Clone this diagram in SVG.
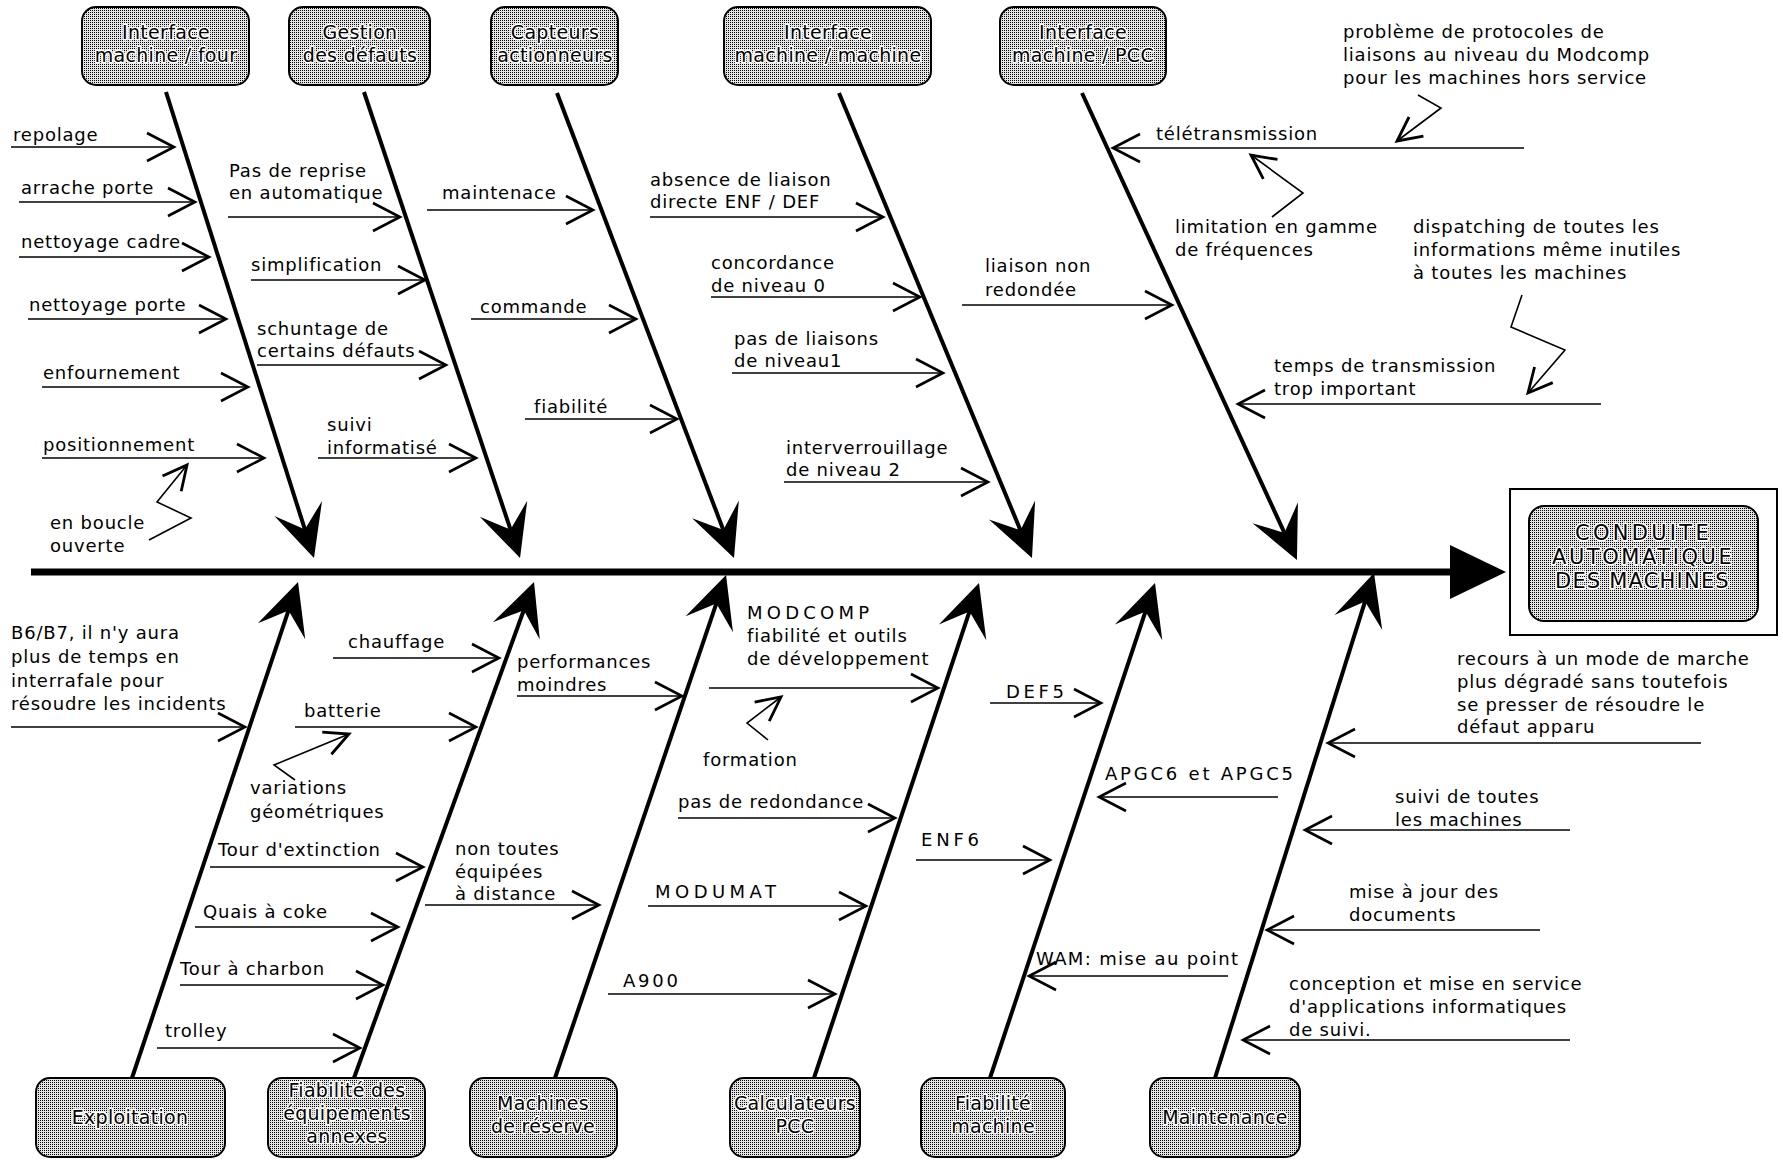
<svg xmlns="http://www.w3.org/2000/svg" width="1783" height="1160" viewBox="0 0 1783 1160">
  <style>
    .lbl { font-family: "DejaVu Sans", "Liberation Sans", sans-serif; font-size: 18px; letter-spacing: 0.8px; fill: #000; }
    .caps { letter-spacing: 0; }
    .box { fill: url(#halftone); stroke: #000; stroke-width: 2; }
    .boxtxt { font-family: "DejaVu Sans", "Liberation Sans", sans-serif; font-size: 19px; letter-spacing: 0.3px; text-anchor: middle; fill: #000; stroke: #fff; stroke-width: 3; paint-order: stroke; stroke-linejoin: round; }
    .head { font-size: 21px; }
    .spine { stroke: #000; stroke-width: 7; fill: none; }
    .bone { stroke: #000; stroke-width: 4; fill: none; marker-end: url(#dart); }
    .sub { stroke: #000; stroke-width: 1.3; fill: none; marker-end: url(#vee); }
    .zig { stroke: #000; stroke-width: 1.6; fill: none; stroke-linejoin: miter; marker-end: url(#veeZ); }
  </style>
  <defs>
    <!-- halftone screen used for the category boxes -->
    <pattern id="halftone" width="2" height="2" patternUnits="userSpaceOnUse">
      <rect width="2" height="2" fill="#e4e4e4"/>
      <rect width="1" height="1" fill="#000"/>
    </pattern>
    <!-- barbed head at the end of every main bone -->
    <marker id="dart" markerUnits="userSpaceOnUse" viewBox="-30 -28 58 56" refX="0" refY="0" markerWidth="58" markerHeight="56" orient="auto" overflow="visible">
      <path d="M25,0 L-27,-25 Q-12,-8 -5,0 Q-12,8 -27,25 Z" fill="#000"/>
    </marker>
    <!-- open chevron for the sub-cause arrows -->
    <marker id="vee" markerUnits="userSpaceOnUse" viewBox="-30 -16 34 32" refX="0" refY="0" markerWidth="34" markerHeight="32" orient="auto" overflow="visible">
      <path d="M-27,-14 L0,0 L-27,14" fill="none" stroke="#000" stroke-width="2.6"/>
    </marker>
    <!-- chevron for the zigzag annotation pointers -->
    <marker id="veeZ" markerUnits="userSpaceOnUse" viewBox="-28 -14 32 28" refX="0" refY="0" markerWidth="32" markerHeight="28" orient="auto" overflow="visible">
      <path d="M-24,-12 L0,0 L-24,12" fill="none" stroke="#000" stroke-width="2.8"/>
    </marker>
  </defs>

  <rect width="1783" height="1160" fill="#fff"/>

  <!-- connectors: spine, bones, sub-cause arrows, annotation pointers -->
  <g id="connectors">
    <path class="spine" d="M31,572 H1452"/>
    <polygon points="1450,545 1506,572 1450,599" fill="#000"/>

    <path class="bone" d="M166,92 L306.4,534.2"/>
    <path class="bone" d="M364,92 L512.1,534.3"/>
    <path class="bone" d="M557,93 L725.1,534.6"/>
    <path class="bone" d="M839,93 L1022.4,534.9"/>
    <path class="bone" d="M1082,93 L1286.5,537.3"/>
    <path class="bone" d="M132,1078 L290.1,605.7"/>
    <path class="bone" d="M354,1078 L525.5,605.5"/>
    <path class="bone" d="M555,1078 L718,598.7"/>
    <path class="bone" d="M814,1078 L971.1,606.7"/>
    <path class="bone" d="M990,1078 L1147.1,606.7"/>
    <path class="bone" d="M1215,1078 L1366.5,596.8"/>

    <path class="sub" d="M11,147 H174"/>
    <path class="sub" d="M19,202 H195"/>
    <path class="sub" d="M19,257 H209"/>
    <path class="sub" d="M28,319 H226"/>
    <path class="sub" d="M42,387 H248"/>
    <path class="sub" d="M42,458 H264"/>
    <path class="sub" d="M228,217 H400"/>
    <path class="sub" d="M251,280 H425"/>
    <path class="sub" d="M257,365 H446"/>
    <path class="sub" d="M318,458 H476"/>
    <path class="sub" d="M427,210 H593"/>
    <path class="sub" d="M471,319 H636"/>
    <path class="sub" d="M525,419 H677"/>
    <path class="sub" d="M650,217 H883"/>
    <path class="sub" d="M711,297 H920"/>
    <path class="sub" d="M732,373 H943"/>
    <path class="sub" d="M784,482 H988"/>
    <path class="sub" d="M962,305 H1172"/>
    <path class="sub" d="M1524,148 H1113"/>
    <path class="sub" d="M1601,404 H1238"/>

    <path class="sub" d="M11,727 H245"/>
    <path class="sub" d="M333,658 H499"/>
    <path class="sub" d="M295,727 H476"/>
    <path class="sub" d="M210,867 H423"/>
    <path class="sub" d="M195,927 H398"/>
    <path class="sub" d="M180,985 H383"/>
    <path class="sub" d="M157,1048 H360"/>
    <path class="sub" d="M517,696 H682"/>
    <path class="sub" d="M425,905 H599"/>
    <path class="sub" d="M709,688 H938"/>
    <path class="sub" d="M678,818 H895"/>
    <path class="sub" d="M648,906 H866"/>
    <path class="sub" d="M608,994 H835"/>
    <path class="sub" d="M990,703 H1101"/>
    <path class="sub" d="M916,860 H1050"/>
    <path class="sub" d="M1278,797 H1099"/>
    <path class="sub" d="M1228,976 H1029"/>
    <path class="sub" d="M1701,743 H1328"/>
    <path class="sub" d="M1570,830 H1305"/>
    <path class="sub" d="M1540,930 H1267"/>
    <path class="sub" d="M1570,1040 H1243"/>

    <polyline class="zig" points="1418,95 1441,108 1397,141"/>
    <polyline class="zig" points="1272,217 1303,193 1251,155"/>
    <polyline class="zig" points="1522,295 1511,327 1565,350 1528,393"/>
    <polyline class="zig" points="149,540 191,518 157,502 187,465"/>
    <polyline class="zig" points="295,780 274,765 349,734"/>
    <polyline class="zig" points="768,740 747,723 781,697"/>
  </g>

  <!-- effect -->
  <g id="effect">
    <rect x="1510" y="489" width="267" height="146" fill="#fff" stroke="#000" stroke-width="2"/>
    <rect class="box" x="1529" y="506" width="229" height="115" rx="15"/>
    <text class="boxtxt head" x="1642" y="540" textLength="134" lengthAdjust="spacing">CONDUITE</text>
    <text class="boxtxt head" x="1642" y="564" textLength="180" lengthAdjust="spacing">AUTOMATIQUE</text>
    <text class="boxtxt head" x="1642" y="588" textLength="174" lengthAdjust="spacing">DES MACHINES</text>
  </g>

  <!-- upper categories -->
  <g id="cat-interface-four">
    <rect class="box" x="82" y="7" width="167" height="78" rx="14"/>
    <text class="boxtxt" x="166" y="39">Interface</text>
    <text class="boxtxt" x="166" y="62">machine / four</text>
  </g>
  <g id="cat-gestion-defauts">
    <rect class="box" x="289" y="7" width="141" height="78" rx="14"/>
    <text class="boxtxt" x="360" y="39">Gestion</text>
    <text class="boxtxt" x="360" y="62">des défauts</text>
  </g>
  <g id="cat-capteurs">
    <rect class="box" x="491" y="7" width="127" height="78" rx="14"/>
    <text class="boxtxt" x="555" y="39">Capteurs</text>
    <text class="boxtxt" x="555" y="62">actionneurs</text>
  </g>
  <g id="cat-interface-machine">
    <rect class="box" x="724" y="7" width="207" height="78" rx="14"/>
    <text class="boxtxt" x="828" y="39">Interface</text>
    <text class="boxtxt" x="828" y="62">machine / machine</text>
  </g>
  <g id="cat-interface-pcc">
    <rect class="box" x="1000" y="7" width="166" height="78" rx="14"/>
    <text class="boxtxt" x="1083" y="39">Interface</text>
    <text class="boxtxt" x="1083" y="62">machine / PCC</text>
  </g>

  <!-- lower categories -->
  <g id="cat-exploitation">
    <rect class="box" x="36" y="1078" width="189" height="79" rx="14"/>
    <text class="boxtxt" x="130" y="1124">Exploitation</text>
  </g>
  <g id="cat-equipements">
    <rect class="box" x="268" y="1078" width="157" height="79" rx="14"/>
    <text class="boxtxt" x="347" y="1097">Fiabilité des</text>
    <text class="boxtxt" x="347" y="1120">équipements</text>
    <text class="boxtxt" x="347" y="1143">annexes</text>
  </g>
  <g id="cat-machines-reserve">
    <rect class="box" x="470" y="1078" width="147" height="79" rx="14"/>
    <text class="boxtxt" x="543" y="1110">Machines</text>
    <text class="boxtxt" x="543" y="1133">de réserve</text>
  </g>
  <g id="cat-calculateurs">
    <rect class="box" x="730" y="1078" width="130" height="79" rx="14"/>
    <text class="boxtxt" x="795" y="1110">Calculateurs</text>
    <text class="boxtxt" x="795" y="1133">PCC</text>
  </g>
  <g id="cat-fiabilite-machine">
    <rect class="box" x="921" y="1078" width="144" height="79" rx="14"/>
    <text class="boxtxt" x="993" y="1110">Fiabilité</text>
    <text class="boxtxt" x="993" y="1133">machine</text>
  </g>
  <g id="cat-maintenance">
    <rect class="box" x="1150" y="1078" width="150" height="79" rx="14"/>
    <text class="boxtxt" x="1225" y="1124">Maintenance</text>
  </g>

  <!-- cause labels -->
  <g id="labels" class="lbl">
    <text x="13" y="141">repolage</text>
    <text x="21" y="194">arrache porte</text>
    <text x="21" y="248">nettoyage cadre</text>
    <text x="29" y="311">nettoyage porte</text>
    <text x="43" y="379">enfournement</text>
    <text x="43" y="451">positionnement</text>
    <text x="50" y="529">en boucle</text>
    <text x="50" y="552">ouverte</text>
    <text x="229" y="177">Pas de reprise</text>
    <text x="229" y="199">en automatique</text>
    <text x="251" y="271">simplification</text>
    <text x="257" y="335">schuntage de</text>
    <text x="257" y="357">certains défauts</text>
    <text x="327" y="431">suivi</text>
    <text x="327" y="454">informatisé</text>
    <text x="442" y="199">maintenace</text>
    <text x="480" y="313">commande</text>
    <text x="534" y="413">fiabilité</text>
    <text x="650" y="186">absence de liaison</text>
    <text x="650" y="208">directe ENF / DEF</text>
    <text x="711" y="269">concordance</text>
    <text x="711" y="292">de niveau 0</text>
    <text x="734" y="345">pas de liaisons</text>
    <text x="734" y="367">de niveau1</text>
    <text x="786" y="454">interverrouillage</text>
    <text x="786" y="476">de niveau 2</text>
    <text x="985" y="272">liaison non</text>
    <text x="985" y="296">redondée</text>
    <text x="1156" y="140">télétransmission</text>
    <text x="1343" y="38">problème de protocoles de</text>
    <text x="1343" y="61">liaisons au niveau du Modcomp</text>
    <text x="1343" y="84">pour les machines hors service</text>
    <text x="1175" y="233">limitation en gamme</text>
    <text x="1175" y="256">de fréquences</text>
    <text x="1413" y="233">dispatching de toutes les</text>
    <text x="1413" y="256">informations même inutiles</text>
    <text x="1413" y="279">à toutes les machines</text>
    <text x="1274" y="372">temps de transmission</text>
    <text x="1274" y="395">trop important</text>

    <text x="11" y="639">B6/B7, il n'y aura</text>
    <text x="11" y="663">plus de temps en</text>
    <text x="11" y="687">interrafale pour</text>
    <text x="11" y="710">résoudre les incidents</text>
    <text x="348" y="648">chauffage</text>
    <text x="304" y="717">batterie</text>
    <text x="250" y="794">variations</text>
    <text x="250" y="818">géométriques</text>
    <text x="218" y="856">Tour d'extinction</text>
    <text x="203" y="918">Quais à coke</text>
    <text x="180" y="975">Tour à charbon</text>
    <text x="165" y="1037">trolley</text>
    <text x="517" y="668">performances</text>
    <text x="517" y="691">moindres</text>
    <text x="455" y="855">non toutes</text>
    <text x="455" y="878">équipées</text>
    <text x="455" y="900">à distance</text>
    <text class="caps" x="747" y="619" textLength="122" lengthAdjust="spacing">MODCOMP</text>
    <text x="747" y="642">fiabilité et outils</text>
    <text x="747" y="665">de développement</text>
    <text x="703" y="766">formation</text>
    <text x="678" y="808">pas de redondance</text>
    <text class="caps" x="655" y="898" textLength="121" lengthAdjust="spacing">MODUMAT</text>
    <text class="caps" x="623" y="987" textLength="55" lengthAdjust="spacing">A900</text>
    <text class="caps" x="1006" y="698" textLength="58" lengthAdjust="spacing">DEF5</text>
    <text class="caps" x="921" y="846" textLength="58" lengthAdjust="spacing">ENF6</text>
    <text class="caps" x="1105" y="780" textLength="188" lengthAdjust="spacing">APGC6 et APGC5</text>
    <text class="caps" x="1036" y="965" textLength="202" lengthAdjust="spacing">WAM: mise au point</text>
    <text x="1457" y="665">recours à un mode de marche</text>
    <text x="1457" y="688">plus dégradé sans toutefois</text>
    <text x="1457" y="711">se presser de résoudre le</text>
    <text x="1457" y="733">défaut apparu</text>
    <text x="1395" y="803">suivi de toutes</text>
    <text x="1395" y="826">les machines</text>
    <text x="1349" y="898">mise à jour des</text>
    <text x="1349" y="921">documents</text>
    <text x="1289" y="990">conception et mise en service</text>
    <text x="1289" y="1013">d'applications informatiques</text>
    <text x="1289" y="1036">de suivi.</text>
  </g>
</svg>
